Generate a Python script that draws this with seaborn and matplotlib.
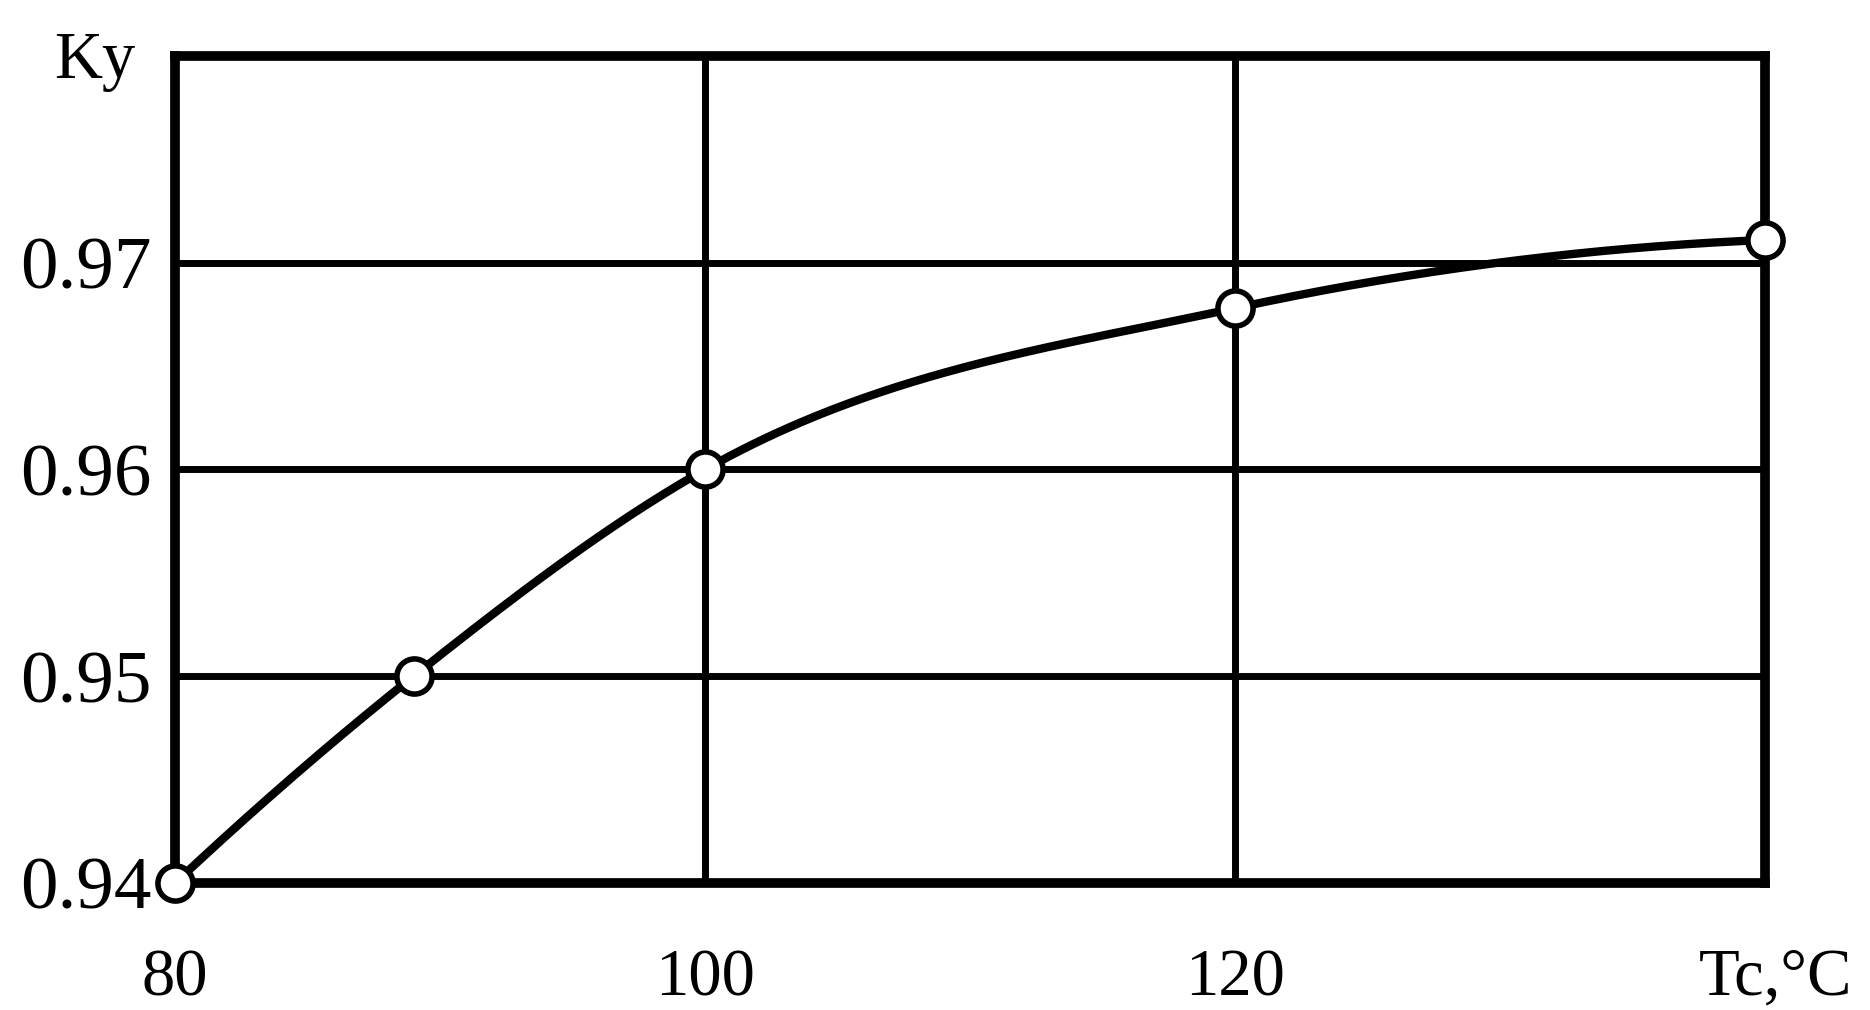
import numpy as np
import matplotlib
matplotlib.use("Agg")
import matplotlib.pyplot as plt
import seaborn as sns

# Tc, °C  -> Ky
tc = [80, 89, 100, 120, 140]
ky = [0.940, 0.950, 0.960, 0.9678, 0.9711]

x_ticks = [80, 100, 120, 140]
x_labels = ["80", "100", "120", ""]
y_ticks = [0.94, 0.95, 0.96, 0.97]
y_labels = ["0.94", "0.95", "0.96", "0.97"]


# cubic hermite (three-point tangents), only to draw the smooth line through the points
def smooth_line(x, y, n=400):
    x = np.asarray(x, float)
    y = np.asarray(y, float)
    h = np.diff(x)
    d = np.diff(y) / h
    m = np.zeros_like(y)
    for i in range(1, len(x) - 1):
        m[i] = (h[i] * d[i - 1] + h[i - 1] * d[i]) / (h[i - 1] + h[i])
    m[0] = ((2 * h[0] + h[1]) * d[0] - h[0] * d[1]) / (h[0] + h[1])
    m[-1] = ((2 * h[-1] + h[-2]) * d[-1] - h[-1] * d[-2]) / (h[-1] + h[-2])
    xs = np.linspace(x[0], x[-1], n)
    idx = np.clip(np.searchsorted(x, xs) - 1, 0, len(x) - 2)
    t = (xs - x[idx]) / h[idx]
    h00 = 2 * t**3 - 3 * t**2 + 1
    h10 = t**3 - 2 * t**2 + t
    h01 = -2 * t**3 + 3 * t**2
    h11 = t**3 - t**2
    ys = h00 * y[idx] + h10 * h[idx] * m[idx] + h01 * y[idx + 1] + h11 * h[idx] * m[idx + 1]
    return xs, ys


sns.set_style("white")
plt.rcParams["font.family"] = ["Liberation Serif", "DejaVu Serif"]
plt.rcParams["text.color"] = "black"
plt.rcParams["xtick.color"] = "black"
plt.rcParams["ytick.color"] = "black"

fig = plt.figure(figsize=(18.7, 10.1), dpi=100)
ax = fig.add_axes([0.0936, 0.1257, 0.8503, 0.8189])

xs, ys = smooth_line(tc, ky)
ax.plot(xs, ys, color="black", lw=6, zorder=2, clip_on=False)
sns.scatterplot(x=tc, y=ky, ax=ax, s=640, color="white", edgecolor="black",
                linewidth=4, zorder=3, clip_on=False)

ax.set_xlim(80, 140)
ax.set_ylim(0.94, 0.98)
ax.set_xticks(x_ticks)
ax.set_xticklabels(x_labels, fontsize=48)
ax.set_yticks(y_ticks)
ax.set_yticklabels(y_labels, fontsize=54)
ax.tick_params(axis="x", length=0, pad=47)
ax.tick_params(axis="y", length=0, pad=17)

ax.grid(True, color="black", lw=5)
for s in ax.spines.values():
    s.set_color("black")
    s.set_linewidth(7)

fig.text(54 / 1870, 1 - 78 / 1010, "Ky", fontsize=48, va="baseline", ha="left")
fig.text(1699 / 1870, 1 - 995 / 1010, "Tc,°C", fontsize=48, va="baseline", ha="left")

fig.savefig("out.png", dpi=100)
